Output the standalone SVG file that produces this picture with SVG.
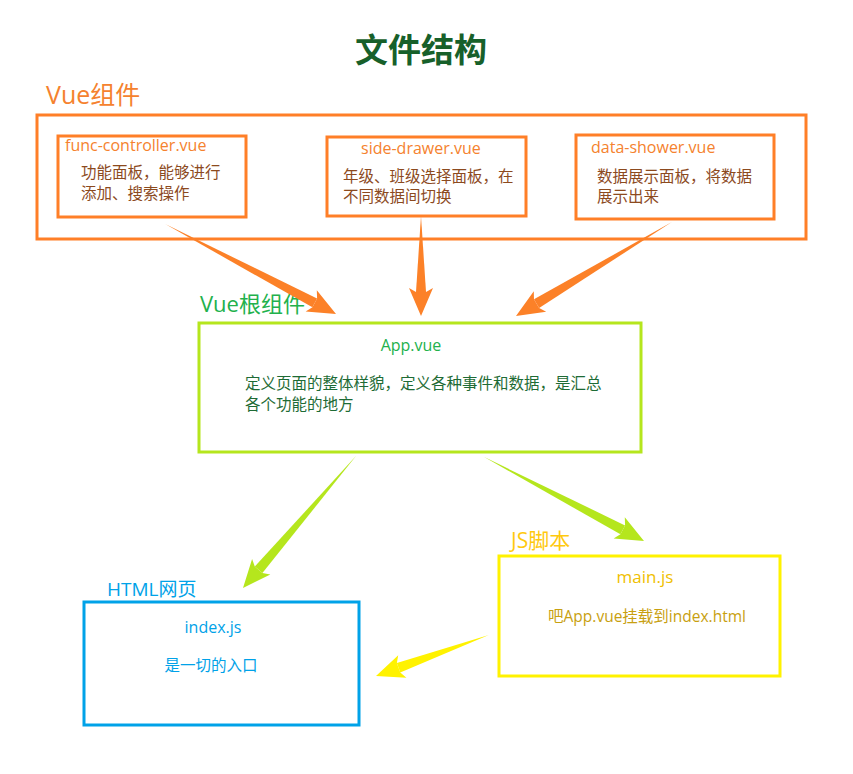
<svg xmlns="http://www.w3.org/2000/svg" width="853" height="774" viewBox="0 0 853 774">
<style>
text{font-family:"Open Sans","Noto Sans CJK SC",sans-serif;}
.box{fill:none;stroke-width:3;}
.or{stroke:#ff7f27;}
.fn{fill:#f5822e;font-size:16px;}
.br{fill:#8c4a1e;font-size:15.5px;}
.ao{fill:#fc8128;}
.ag{fill:#b5e61d;}
.ay{fill:#fff200;}
</style>
<defs>
<polygon id="head" points="-24,-5 -28,-12 0,0 -28,12 -24,5"/>
</defs>
<rect width="853" height="774" fill="#ffffff"/>
<text x="421" y="62" text-anchor="middle" font-size="33" font-weight="bold" fill="#17602a">文件结构</text>

<g id="vue-components">
<text x="46" y="104" font-size="25" fill="#f5822e">Vue组件</text>
<rect class="box or" x="37" y="115" width="769" height="124"/>
</g>
<g id="func-controller">
<rect class="box or" x="58" y="136" width="188" height="81"/>
<text class="fn" x="65" y="151">func-controller.vue</text>
<text class="br" x="81" y="178">功能面板，能够进行</text>
<text class="br" x="81" y="199">添加、搜索操作</text>
</g>
<g id="side-drawer">
<rect class="box or" x="327" y="137" width="199" height="79"/>
<text class="fn" x="361" y="154">side-drawer.vue</text>
<text class="br" x="343" y="182">年级、班级选择面板，在</text>
<text class="br" x="343" y="202">不同数据间切换</text>
</g>
<g id="data-shower">
<rect class="box or" x="576" y="135" width="198" height="84"/>
<text class="fn" x="591" y="153">data-shower.vue</text>
<text class="br" x="597" y="182">数据展示面板，将数据</text>
<text class="br" x="597" y="202">展示出来</text>
</g>
<g id="app">
<text x="200" y="312" font-size="22" fill="#22b14c">Vue根组件</text>
<rect class="box" stroke="#b5e61d" x="199" y="323" width="442" height="129"/>
<text x="411" y="351" text-anchor="middle" font-size="16" fill="#22b14c">App.vue</text>
<text x="245" y="389" font-size="15.5" fill="#1e6b35">定义页面的整体样貌，定义各种事件和数据，是汇总</text>
<text x="245" y="410" font-size="15.5" fill="#1e6b35">各个功能的地方</text>
</g>
<g id="index">
<text x="107" y="596" font-size="19" fill="#00a2e8">HTML网页</text>
<rect class="box" stroke="#00a2e8" x="84" y="602" width="275" height="123"/>
<text x="213" y="633" text-anchor="middle" font-size="16" fill="#00a2e8">index.js</text>
<text x="211" y="671" text-anchor="middle" font-size="15.5" fill="#00a2e8">是一切的入口</text>
</g>
<g id="main">
<text x="511" y="548" font-size="21" fill="#ffc90e">JS脚本</text>
<rect class="box" stroke="#fff200" x="499" y="556" width="281" height="120"/>
<text x="645" y="583" text-anchor="middle" font-size="17" fill="#f0c000">main.js</text>
<text x="647" y="622" text-anchor="middle" font-size="15.5" fill="#c8a010">吧App.vue挂载到index.html</text>
</g>

<g id="connectors">
<g class="ao" transform="translate(336,314) rotate(27.76)"><polygon points="-193,0 -24,-5 -24,5"/><use href="#head"/></g>
<g class="ao" transform="translate(421,316) rotate(90)"><polygon points="-100,0 -24,-5 -24,5"/><use href="#head"/></g>
<g class="ao" transform="translate(516,316) rotate(148.93)"><polygon points="-182,0 -24,-5 -24,5"/><use href="#head"/></g>
<g class="ag" transform="translate(243,588) rotate(130.57)"><polygon points="-174,0 -24,-5 -24,5"/><use href="#head"/></g>
<g class="ag" transform="translate(644,541) rotate(27.7)"><polygon points="-181,0 -24,-5 -24,5"/><use href="#head"/></g>
<g class="ay" transform="translate(376,676) rotate(160.06)"><polygon points="-120,0 -24,-5 -24,5"/><use href="#head"/></g>
</g>
</svg>
